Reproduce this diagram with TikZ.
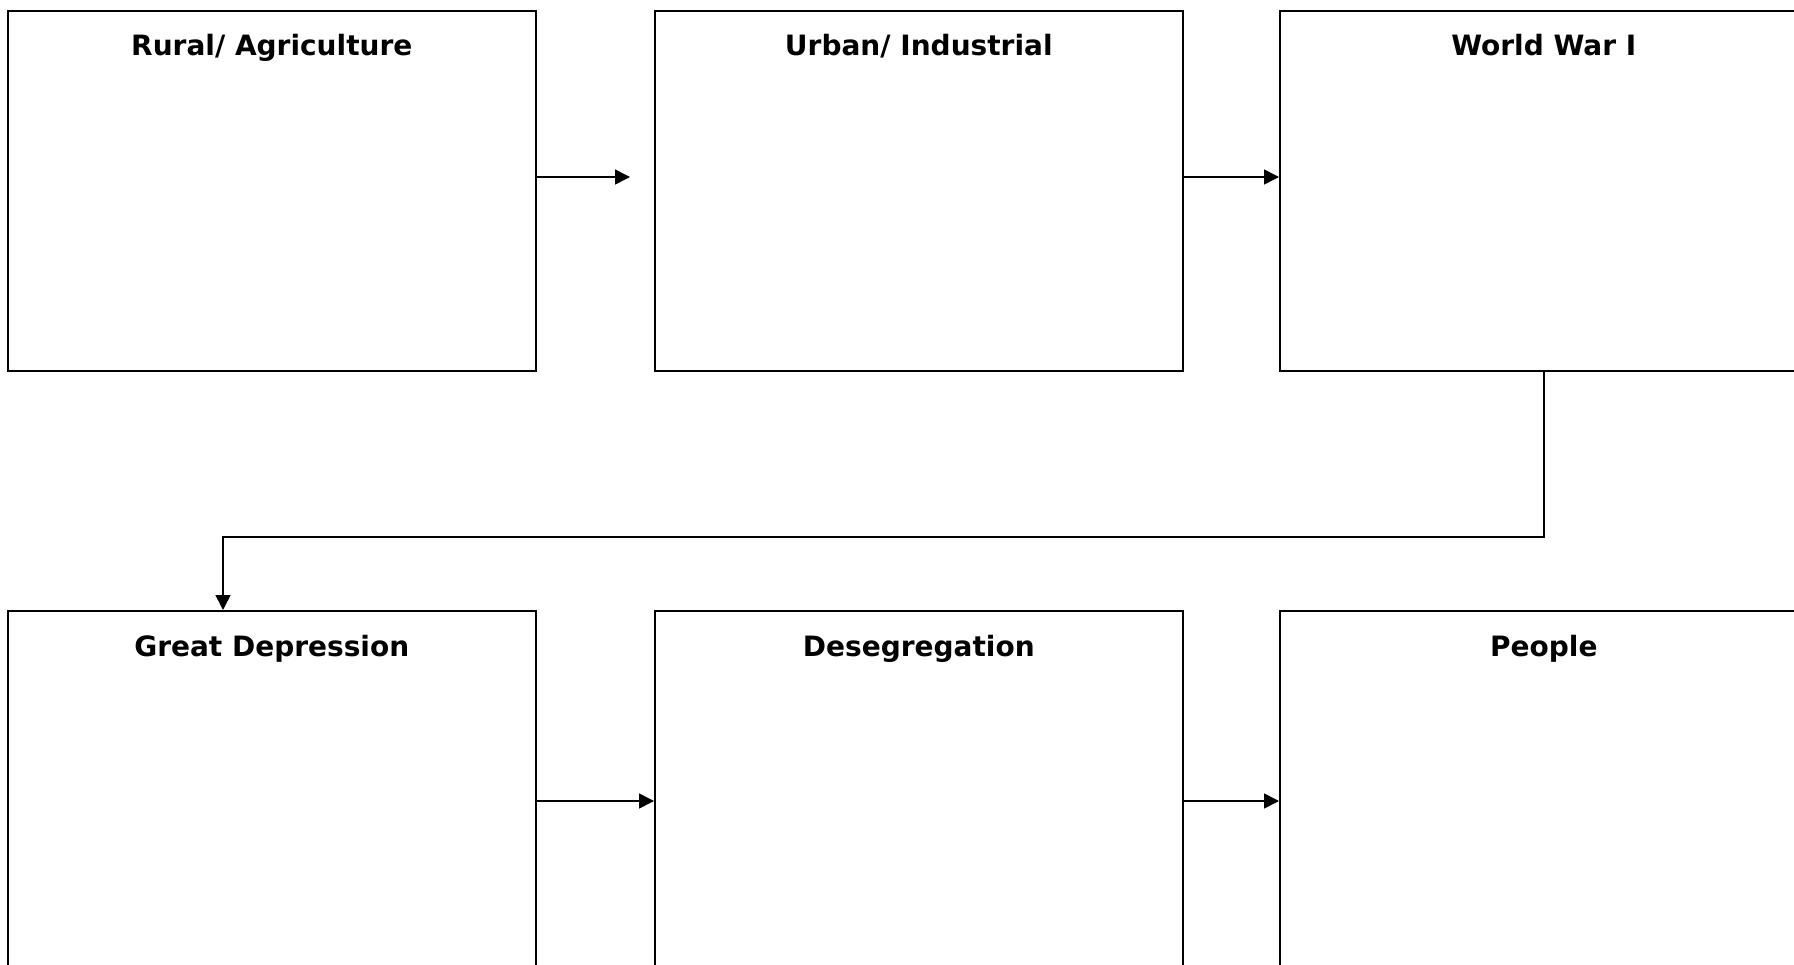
\documentclass[tikz,border=0pt]{standalone}
\usepackage{fontspec}
\setmainfont{DejaVu Sans}
\usetikzlibrary{arrows.meta}
\begin{document}
\begin{tikzpicture}[x=1pt,y=-1pt,
  box/.style={draw, line width=1.6pt, minimum width=528pt, minimum height=360pt, inner sep=0pt, anchor=north west},
  title/.style={font=\fontsize{28}{32}\selectfont\bfseries, anchor=base, inner sep=0pt},
  conn/.style={line width=1.6pt, -{Triangle[length=15pt,width=15pt]}}]
\useasboundingbox (0,0) rectangle (1794,965);
\clip (0,0) rectangle (1794,965);
\fill[white] (0,0) rectangle (1794,965);
% top row
\node[box] (b1) at (7,10) {};
\node[box] (b2) at (654,10) {};
\node[box] (b3) at (1279,10) {};
% bottom row
\node[box] (b4) at (7,610) {};
\node[box] (b5) at (654,610) {};
\node[box] (b6) at (1279,610) {};
% titles
\node[title] (t1) at ([yshift=-46pt]b1.north) {Rural/ Agriculture};
\node[title] (t2) at ([yshift=-46pt]b2.north) {Urban/ Industrial};
\node[title] (t3) at ([yshift=-46pt]b3.north) {World War I};
\node[title] (t4) at ([yshift=-46pt]b4.north) {Great Depression};
\node[title] (t5) at ([yshift=-46pt]b5.north) {Desegregation};
\node[title] (t6) at ([yshift=-46pt]b6.north) {People};
% connectors
\coordinate (e1) at (630,177);
\draw[conn] (b1.east |- e1) -- (e1);
\draw[conn] (b2.east |- e1) -- (b3.west |- e1);
\coordinate (k) at (223,537);
\draw[conn] (b3.south) |- (k) -- (k |- b4.north);
\coordinate (r2) at (0,801);
\draw[conn] (b4.east |- r2) -- (b5.west |- r2);
\draw[conn] (b5.east |- r2) -- (b6.west |- r2);
\end{tikzpicture}
\end{document}
